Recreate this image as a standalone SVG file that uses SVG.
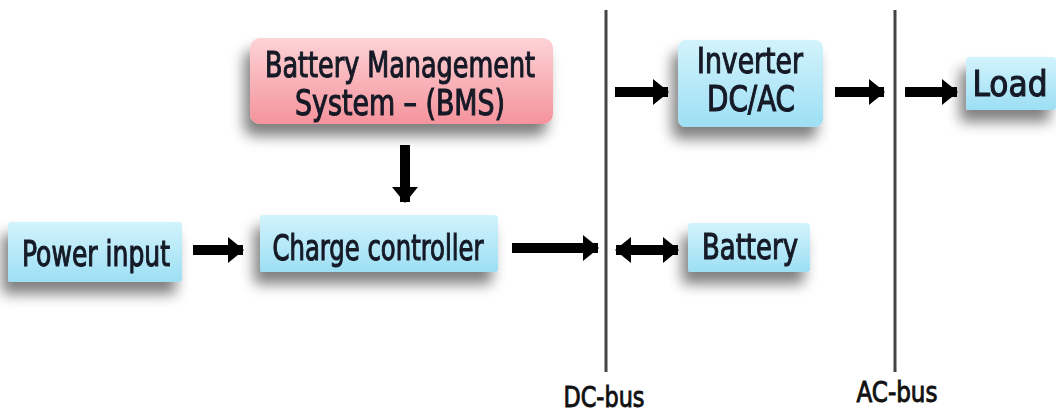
<svg xmlns="http://www.w3.org/2000/svg" width="1056" height="415" viewBox="0 0 1056 415">
  <defs>
    <linearGradient id="blueFill" x1="0" y1="0" x2="0" y2="1">
      <stop offset="0" stop-color="#d2f3fc"/>
      <stop offset="1" stop-color="#9ddff4"/>
    </linearGradient>
    <linearGradient id="pinkFill" x1="0" y1="0" x2="0" y2="1">
      <stop offset="0" stop-color="#fcd3d6"/>
      <stop offset="1" stop-color="#f5939c"/>
    </linearGradient>
    <filter id="shadow" x="-20%" y="-30%" width="140%" height="180%">
      <feGaussianBlur in="SourceAlpha" stdDeviation="7"/>
      <feOffset dx="-6" dy="12" result="b"/>
      <feComponentTransfer><feFuncA type="linear" slope="0.5"/></feComponentTransfer>
      <feMerge><feMergeNode/><feMergeNode in="SourceGraphic"/></feMerge>
    </filter>
    <filter id="soft"><feGaussianBlur stdDeviation="0.6"/></filter>
    <marker id="head" markerUnits="userSpaceOnUse" markerWidth="16" markerHeight="26" refX="15" refY="13" orient="auto-start-reverse">
      <path d="M0,0 L16,13 L0,26 Z" fill="#000"/>
    </marker>
  </defs>
  <style>
    .box { stroke: none; }
    .blue { fill: url(#blueFill); }
    .pink { fill: url(#pinkFill); }
    .lbl { font-family: "DejaVu Sans Condensed", "DejaVu Sans", sans-serif; font-size: 36px; fill: #141a26; text-anchor: middle; stroke: #141a26; stroke-width: 1.1; }
    .bus { font-family: "DejaVu Sans Condensed", "DejaVu Sans", sans-serif; font-size: 29px; fill: #111; text-anchor: middle; stroke: #111; stroke-width: 0.9; }
    .arrow { stroke: #000; stroke-width: 10; fill: none; marker-end: url(#head); }
    .busline { stroke: #444; stroke-width: 3; }
  </style>

  <rect width="1056" height="415" fill="#fff"/>

  <g id="bms" filter="url(#shadow)">
    <rect class="box pink" x="250" y="38" width="303" height="86" rx="10"/>
    <text class="lbl" x="400" y="77" textLength="270" lengthAdjust="spacingAndGlyphs">Battery Management</text>
    <text class="lbl" x="400" y="115" textLength="210" lengthAdjust="spacingAndGlyphs">System – (BMS)</text>
  </g>

  <g id="power-input" filter="url(#shadow)">
    <rect class="box blue" x="8" y="222" width="174" height="60" rx="3"/>
    <text class="lbl" x="96" y="266" textLength="148" lengthAdjust="spacingAndGlyphs">Power input</text>
  </g>

  <g id="charge-controller" filter="url(#shadow)">
    <rect class="box blue" x="260" y="215" width="238" height="57" rx="3"/>
    <text class="lbl" x="378" y="260" textLength="211" lengthAdjust="spacingAndGlyphs">Charge controller</text>
  </g>

  <g id="inverter" filter="url(#shadow)">
    <rect class="box blue" x="678" y="40" width="145" height="87" rx="8"/>
    <text class="lbl" x="750" y="73" textLength="106" lengthAdjust="spacingAndGlyphs">Inverter</text>
    <text class="lbl" x="751" y="111" textLength="88" lengthAdjust="spacingAndGlyphs">DC/AC</text>
  </g>

  <g id="load" filter="url(#shadow)">
    <rect class="box blue" x="966" y="57" width="90" height="53" rx="3"/>
    <text class="lbl" x="1010" y="96" textLength="75" lengthAdjust="spacingAndGlyphs">Load</text>
  </g>

  <g id="battery" filter="url(#shadow)">
    <rect class="box blue" x="688" y="223" width="122" height="49" rx="3"/>
    <text class="lbl" x="750" y="259" textLength="96" lengthAdjust="spacingAndGlyphs">Battery</text>
  </g>

  <g id="dc-bus">
    <line class="busline" x1="606" y1="10" x2="606" y2="372"/>
    <text class="bus" x="604" y="407" textLength="81" lengthAdjust="spacingAndGlyphs">DC-bus</text>
  </g>

  <g id="ac-bus">
    <line class="busline" x1="895" y1="10" x2="895" y2="372"/>
    <text class="bus" x="897" y="402" textLength="81" lengthAdjust="spacingAndGlyphs">AC-bus</text>
  </g>

  <g id="connectors" filter="url(#soft)">
    <line class="arrow" x1="405" y1="145" x2="405" y2="202"/>
    <line class="arrow" x1="193" y1="250" x2="243" y2="250"/>
    <line class="arrow" x1="512" y1="248" x2="598" y2="248"/>
    <line class="arrow" x1="616" y1="250" x2="678" y2="250" marker-start="url(#head)"/>
    <line class="arrow" x1="615" y1="92" x2="668" y2="92"/>
    <line class="arrow" x1="835" y1="92" x2="884" y2="92"/>
    <line class="arrow" x1="905" y1="92" x2="957" y2="92"/>
  </g>
</svg>
